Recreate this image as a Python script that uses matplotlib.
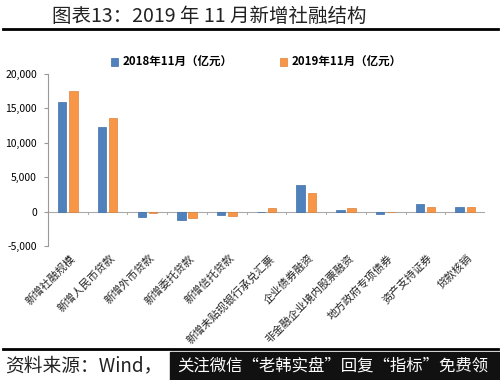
import numpy as np
import matplotlib.pyplot as plt
from matplotlib.ticker import FuncFormatter

plt.rcParams['font.family'] = ['Noto Sans CJK SC', 'DejaVu Sans']

categories = ["新增社融规模", "新增人民币贷款", "新增外币贷款", "新增委托贷款",
              "新增信托贷款", "新增未贴现银行承兑汇票", "企业债券融资",
              "非金融企业境内股票融资", "地方政府专项债券", "资产支持证券", "贷款核销"]
nov_2018 = [16000, 12300, -750, -1300, -450, -100, 3900, 150, -300, 1100, 700]
nov_2019 = [17500, 13600, -160, -950, -650, 550, 2700, 500, 0, 650, 650]
legend_labels = ["2018年11月（亿元）", "2019年11月（亿元）"]
title = "图表13：2019 年 11 月新增社融结构"
source = "资料来源：Wind，"
banner = "关注微信“老韩实盘”回复“指标”免费领"

blue = "#4f81bd"
orange = "#f79646"

fig = plt.figure(figsize=(5, 3.8), dpi=100)
ax = fig.add_axes([0.096, 0.353, 0.874, 0.452])

x = np.arange(len(categories))
w = 0.21
b1 = ax.bar(x - 0.14, nov_2018, width=w, color=blue, edgecolor="#3f6fa8", linewidth=0.5)
b2 = ax.bar(x + 0.14, nov_2019, width=w, color=orange, edgecolor="#e0823a", linewidth=0.5)

ax.set_ylim(-5000, 20000)
ax.set_xlim(-0.5, len(categories) - 0.5)
ax.set_yticks([-5000, 0, 5000, 10000, 15000, 20000])
ax.yaxis.set_major_formatter(FuncFormatter(lambda v, p: f"{v:,.0f}"))
ax.tick_params(axis="y", labelsize=7.5, length=3, color="#999999", pad=5)

for s in ["top", "right", "bottom"]:
    ax.spines[s].set_visible(False)
ax.spines["left"].set_color("#999999")
ax.spines["left"].set_linewidth(0.8)
ax.axhline(0, color="#aaaaaa", linewidth=0.8, zorder=0)

# category separators on the zero line
ax.set_xticks(x)
ax.set_xticklabels([])
ax.tick_params(axis="x", length=0)
for xs in np.arange(0.5, len(categories) - 0.5, 1.0):
    ax.plot([xs, xs], [0, -350], color="#aaaaaa", linewidth=0.7)

for xi, lab in zip(x, categories):
    ax.text(xi + 0.05, -6000, lab, rotation=45, ha="right", va="top",
            rotation_mode="anchor", fontsize=7.8, color="#222222",
            transform=ax.transData, clip_on=False)

ax.legend([b1, b2], legend_labels, loc="upper left", bbox_to_anchor=(0.12, 1.165),
          ncol=2, frameon=False, handlelength=0.6, handleheight=0.6,
          handletextpad=0.4, columnspacing=4.1, prop={"weight": "bold", "size": 8.3})

fig.text(0.105, 0.957, title, fontsize=14, color="#222222", va="center")
fig.add_artist(plt.Line2D([0.005, 0.995], [0.925, 0.925], color="black", linewidth=2))
fig.add_artist(plt.Line2D([0.005, 0.995], [0.082, 0.082], color="black", linewidth=2))

fig.text(0.01, 0.037, source, fontsize=13.5, style="italic", color="#222222", va="center")
fig.patches.append(plt.Rectangle((0.34, 0.0), 0.66, 0.073, transform=fig.transFigure,
                                 color="#111111", zorder=1))
fig.text(0.355, 0.037, banner, fontsize=11.8, color="white", va="center", zorder=2)

fig.savefig("out.png", dpi=100)
